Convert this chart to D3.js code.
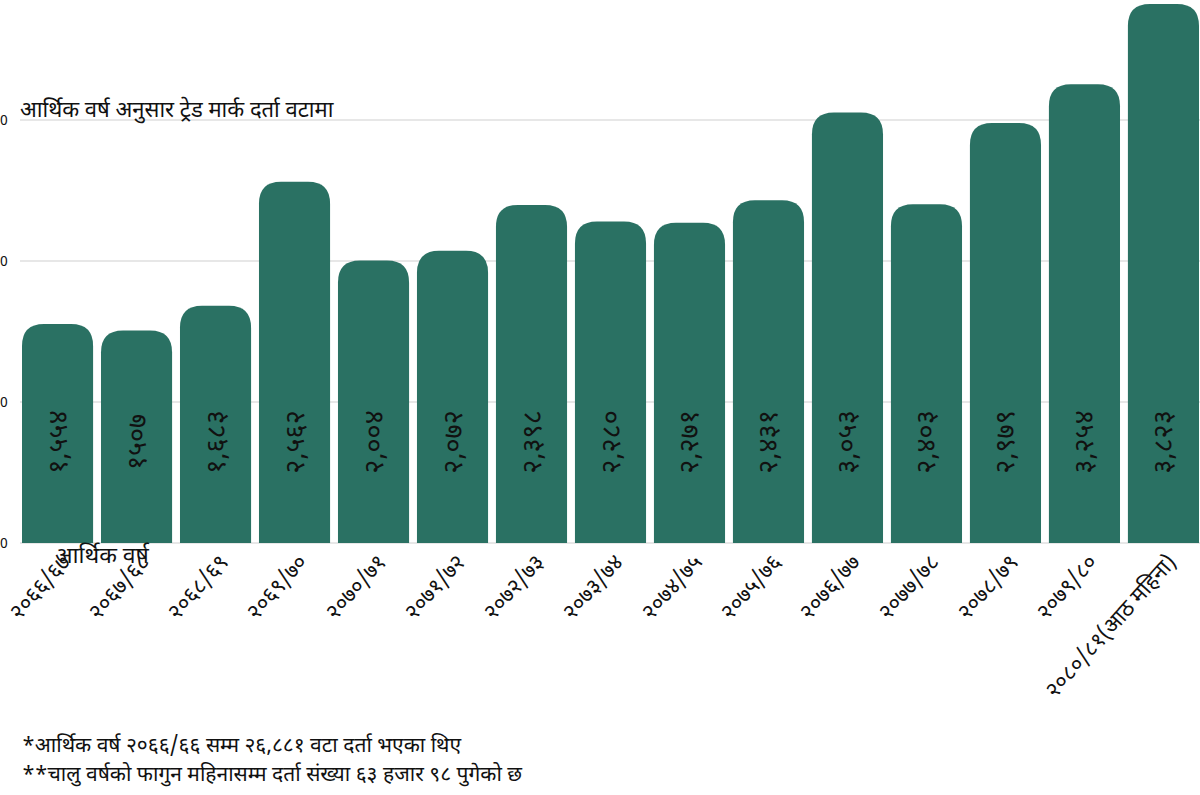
<!DOCTYPE html>
<html>
<head>
<meta charset="utf-8">
<script src="https://cdn.jsdelivr.net/npm/d3@7"></script>
<style>
  html, body { margin: 0; padding: 0; background: #fff; }
  svg { display: block; }
  text { font-family: "Noto Sans Devanagari", "Noto Sans", "DejaVu Sans", sans-serif; fill: #111; }
</style>
</head>
<body>
<svg id="chart" width="1200" height="795"></svg>
<script>
const categories = ["२०६६/६७","२०६७/६८","२०६८/६९","२०६९/७०","२०७०/७१","२०७१/७२","२०७२/७३","२०७३/७४","२०७४/७५","२०७५/७६","२०७६/७७","२०७७/७८","२०७८/७९","२०७९/८०","२०८०/८१(आठ महिना)"];
const values = [1554, 1507, 1683, 2562, 2004, 2072, 2398, 2280, 2271, 2431, 3053, 2403, 2979, 3254, 3823];
const valueLabels = ["१,५५४","१५०७","१,६८३","२,५६२","२,००४","२,०७२","२,३९८","२,२८०","२,२७१","२,४३१","३,०५३","२,४०३","२,९७९","३,२५४","३,८२३"];
const yTicks = [0, 1000, 2000, 3000];
const yTickLabels = ["0", "0", "0", "0"]; // only the last digit of each tick is visible at the cropped left edge
const title = "आर्थिक वर्ष अनुसार ट्रेड मार्क दर्ता  वटामा";
const xTitle = "आर्थिक  वर्ष";
const notes = ["*आर्थिक वर्ष २०६६/६६ सम्म २६,८८१ वटा दर्ता भएका थिए", "**चालु वर्षको फागुन महिनासम्म दर्ता संख्या ६३ हजार ९८ पुगेको छ"];

const svg = d3.select("#chart");
const baseY = 543;
const x = d3.scaleBand().domain(categories).range([22, 1199]).paddingInner(0.1).paddingOuter(0);
const y = d3.scaleLinear().domain([0, 4000]).range([baseY, baseY - 564]);
const barColor = "#2a7163";

// gridlines
svg.append("g").selectAll("line").data(yTicks).join("line")
  .attr("x1", 20).attr("x2", 1200)
  .attr("y1", d => y(d)).attr("y2", d => y(d))
  .attr("stroke", "#cfcfcf").attr("stroke-width", 1);

// y tick labels (cropped axis: only trailing digit visible)
svg.append("g").selectAll("text").data(yTicks).join("text")
  .attr("x", 0).attr("y", d => y(d) + 5)
  .attr("text-anchor", "start").attr("font-size", 14)
  .text((d, i) => yTickLabels[i]);

// bars with rounded tops
const r = 22;
function barPath(x0, w, yTop, yBot) {
  const rr = Math.min(r, w / 2, (yBot - yTop));
  return `M${x0},${yBot} V${yTop + rr} Q${x0},${yTop} ${x0 + rr},${yTop} H${x0 + w - rr} Q${x0 + w},${yTop} ${x0 + w},${yTop + rr} V${yBot} Z`;
}
svg.append("g").selectAll("path").data(values).join("path")
  .attr("d", (d, i) => barPath(x(categories[i]), x.bandwidth(), y(d), baseY))
  .attr("fill", barColor);

// value labels rotated
svg.append("g").selectAll("text").data(values).join("text")
  .attr("transform", (d, i) => `translate(${x(categories[i]) + x.bandwidth() / 2 + 9},442) rotate(-90)`)
  .attr("text-anchor", "middle").attr("font-size", 27)
  .text((d, i) => valueLabels[i]);

// title
svg.append("text").attr("x", 20).attr("y", 117).attr("font-size", 22).text(title);

// x axis labels
svg.append("g").selectAll("text").data(categories).join("text")
  .attr("transform", d => `translate(${x(d) + x.bandwidth() / 2 + 14},563) rotate(-48)`)
  .attr("text-anchor", "end").attr("font-size", 22)
  .text(d => d);

// x title
svg.append("text").attr("x", 55).attr("y", 563).attr("font-size", 23).text(xTitle);

// notes
svg.append("g").selectAll("text").data(notes).join("text")
  .attr("x", 22).attr("y", (d, i) => 752 + i * 29)
  .attr("font-size", 21).text(d => d);
</script>
</body>
</html>
